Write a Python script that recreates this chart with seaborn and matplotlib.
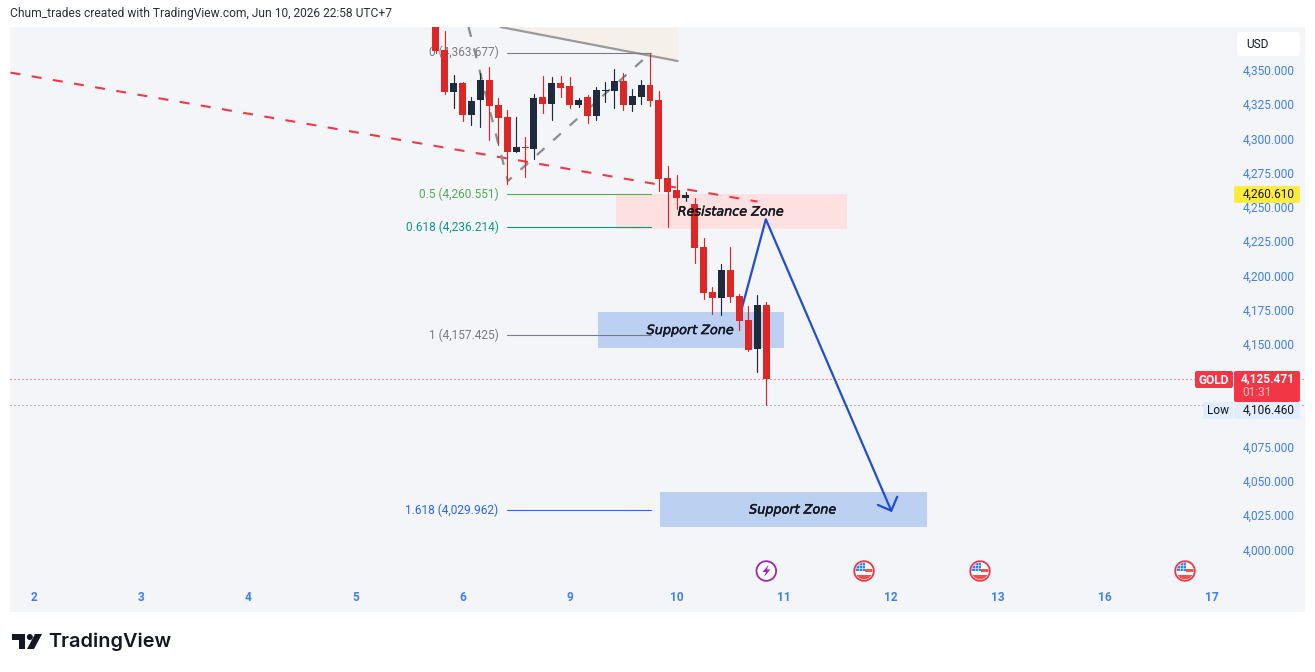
import numpy as np
import pandas as pd
import seaborn as sns
import matplotlib.pyplot as plt
import matplotlib.patheffects as pe
from matplotlib.patches import Circle, FancyBboxPatch, Polygon, Rectangle
from matplotlib.transforms import Affine2D, offset_copy

# 2h candles, bar 0 sits on day "6"
first_bar = -3
opens = [4387.5, 4365.6, 4335.2, 4341.5, 4318.4, 4329.3, 4343.7, 4325.5, 4316.7, 4291.4,
         4294.8, 4293.6, 4331.3, 4326.4, 4341.5, 4339.3, 4325.7, 4331.3, 4317.7, 4335.7,
         4335.9, 4343.0, 4325.7, 4331.5, 4340.1, 4329.1, 4272.2, 4263.5, 4257.6, 4253.2,
         4221.9, 4189.1, 4184.7, 4205.1, 4186.1, 4168.6, 4147.5, 4179.6]
closes = [4364.9, 4335.2, 4341.5, 4318.4, 4328.4, 4343.7, 4325.0, 4316.2, 4291.4, 4294.8,
          4294.1, 4330.6, 4326.4, 4341.5, 4338.1, 4325.7, 4329.1, 4317.2, 4336.4, 4336.4,
          4343.0, 4325.7, 4332.0, 4340.1, 4328.6, 4271.7, 4262.2, 4257.6, 4259.8, 4221.1,
          4188.3, 4184.7, 4205.1, 4185.4, 4167.9, 4146.7, 4179.6, 4125.471]
highs = [4394.8, 4379.5, 4347.4, 4342.5, 4331.1, 4348.8, 4353.2, 4330.4, 4321.8, 4316.7,
         4302.1, 4333.5, 4346.6, 4345.9, 4346.6, 4345.9, 4330.6, 4332.8, 4338.6, 4342.3,
         4351.7, 4348.8, 4337.1, 4343.7, 4363.677, 4335.7, 4281.0, 4274.4, 4262.0, 4257.6,
         4228.4, 4192.7, 4209.5, 4221.9, 4187.6, 4178.8, 4186.9, 4181.8]
lows = [4363.4, 4333.5, 4323.5, 4314.0, 4311.1, 4309.6, 4300.0, 4296.3, 4267.8, 4291.4,
        4273.2, 4286.3, 4319.6, 4314.8, 4331.5, 4323.5, 4324.2, 4312.6, 4314.8, 4327.9,
        4323.5, 4322.1, 4321.3, 4326.4, 4325.0, 4263.0, 4236.7, 4249.6, 4255.4, 4210.2,
        4184.0, 4173.0, 4172.3, 4181.8, 4161.3, 4146.0, 4130.7, 4106.46]

day_bars = [-48, -36, -24, -12, 0, 12, 24, 36, 48, 60, 72, 84]
day_labels = ["2", "3", "4", "5", "6", "9", "10", "11", "12", "13", "16", "17"]
price_ticks = [4350, 4325, 4300, 4275, 4250, 4225, 4200, 4175, 4150, 4075, 4050, 4025, 4000]

fib_levels = [4363.677, 4260.551, 4236.214, 4157.425, 4029.962]
fib_names = ["0", "0.5", "0.618", "1", "1.618"]
fib_colors = ["#787b86", "#4caf50", "#089981", "#787b86", "#2962ff"]
fib_start, fib_end = 4.93, 21.06

last_price = 4125.471
low_price = 4106.46

red_line_x = [-50.64, 33.05]
red_line_y = [4349.1, 4255.0]
grey_dash_x = [0.67, 5.08, 21.06]
grey_dash_y = [4382.4, 4270.0, 4363.4]
wedge_x = [4.26, 24.09]
wedge_y = [4382.4, 4357.6]
path_x = [31.0, 33.98, 48.03]
path_y = [4170.1, 4242.1, 4029.5]
head_x = [46.53, 48.03, 48.7]
head_y = [4033.7, 4029.5, 4039.7]

zone_names = ["Resistance Zone", "Support Zone", "Support Zone"]
zone_left = [17.14, 15.13, 22.07]
zone_right = [43.03, 35.97, 51.99]
zone_low = [4235.0, 4148.2, 4017.6]
zone_high = [4260.6, 4174.5, 4043.2]
zone_colors = ["#fde0e0", "#bcd0f2", "#bcd0f2"]

RED = "#dd2626"
DARK = "#1f2a3c"
TICK = "#3f7ff2"
ALERT = "#f23645"

sns.set_theme(style="white")
plt.rcParams["font.family"] = ["Roboto", "DejaVu Sans"]

fig = plt.figure(figsize=(13.15, 6.72), dpi=100, facecolor="white")
ax = fig.add_axes([10 / 1315, 1 - 612 / 672, 1295.5 / 1315, 585 / 672], facecolor="#f4f5f8")
# pixel coords for the price boxes, icons and logo
pix = Affine2D().scale(1 / 1315, -1 / 672).translate(0, 1) + fig.transFigure

candles = pd.DataFrame({"bar": np.arange(len(opens)) + first_bar, "open": opens,
                        "close": closes, "high": highs, "low": lows})
candles["color"] = np.where(candles["close"] >= candles["open"], DARK, RED)
wicks = candles.melt(id_vars=["bar", "color"], value_vars=["high", "low"], value_name="price")

for i in range(3):
    ax.add_patch(Rectangle((zone_left[i], zone_low[i]), zone_right[i] - zone_left[i],
                           zone_high[i] - zone_low[i], color=zone_colors[i], lw=0, zorder=1))

ax.fill_between([wedge_x[0], wedge_x[1]], wedge_y, [wedge_y[0], wedge_y[0]], color="#f5f1ea", lw=0, zorder=1)
sns.lineplot(x=wedge_x, y=wedge_y, ax=ax, color="#9a9a9a", lw=1.6, zorder=2)
sns.lineplot(x=red_line_x, y=red_line_y, ax=ax, color=ALERT, lw=1.5, zorder=2,
             linestyle=(0, (4.8, 5.5)))
sns.lineplot(x=grey_dash_x, y=grey_dash_y, ax=ax, color="#8c8c8c", lw=1.6, zorder=2, sort=False,
             estimator=None, linestyle=(0, (4.6, 5.3)))
sns.lineplot(x=path_x, y=path_y, ax=ax, color="#1f4fd1", lw=1.6, zorder=3, sort=False, estimator=None)
sns.lineplot(x=head_x, y=head_y, ax=ax, color="#1f4fd1", lw=1.6, zorder=3, sort=False, estimator=None)

for level, name, col in zip(fib_levels, fib_names, fib_colors):
    ax.plot([fib_start, fib_end], [level, level], color=col, lw=0.8, zorder=2)
    ax.annotate(f"{name} ({level:,.3f})", (fib_start, level), xytext=(-5.8, 0),
                textcoords="offset points", ha="right", va="center", fontsize=8.6, color=col, zorder=2)

ax.axhline(last_price, color=ALERT, lw=0.8, linestyle=(0, (0.9, 2.7)), zorder=2)
ax.axhline(low_price, color="#787b86", lw=0.8, linestyle=(0, (0.9, 2.7)), zorder=2)

sns.lineplot(data=wicks, x="bar", y="price", units="bar", estimator=None, hue="color",
             palette={RED: RED, DARK: DARK}, lw=0.85, legend=False, ax=ax, zorder=4)
ax.bar(candles["bar"], candles["close"] - candles["open"], bottom=candles["open"], width=0.78,
       color=candles["color"], lw=0, zorder=5)

for i in range(3):
    t = ax.text((zone_left[i] + zone_right[i]) / 2 - 0.05, (zone_low[i] + zone_high[i]) / 2 - 0.4, zone_names[i],
                family="DejaVu Sans", style="italic", fontsize=9.2, color="#131722",
                ha="center", va="center", zorder=6)
    t.set_path_effects([pe.withStroke(linewidth=0.35, foreground="#131722")])

ax.set_xlim(-50.7, 94.44)
ax.set_ylim(3955.6, 4382.4)
ax.set_xlabel("")
ax.set_ylabel("")
sns.despine(ax=ax, left=True, bottom=True)

ax.yaxis.tick_right()
ax.set_yticks(price_ticks)
ax.set_yticklabels([f"{p:,.3f}" for p in price_ticks], ha="right", color=TICK, fontsize=8.6)
ax.tick_params(axis="y", length=0, pad=-7.7)
for lab in ax.get_yticklabels():
    # TradingView prints them a touch above the true level
    lab.set_transform(offset_copy(lab.get_transform(), fig=fig, x=0, y=1.2, units="points"))
ax.set_xticks(day_bars)
ax.set_xticklabels(day_labels, color=TICK, fontsize=8.6, weight="bold")
ax.tick_params(axis="x", length=0, pad=-15)


def box(x0, y0, x1, y1, color, r=2):
    fig.add_artist(FancyBboxPatch((x0 + r, y0 + r), x1 - x0 - 2 * r, y1 - y0 - 2 * r,
                                  boxstyle=f"round,pad={r},rounding_size={r}", fc=color, ec="none",
                                  transform=pix, zorder=10))


def label(x, y, s, color, ha="left", size=8.6, weight="normal", alpha=1):
    fig.text(x, y, s, color=color, ha=ha, va="center", fontsize=size, weight=weight, alpha=alpha,
             transform=pix, zorder=11)


box(1237, 32, 1300, 56, "white", r=3)
label(1246, 44.5, "USD", "#131722")
box(1234, 186, 1300, 203, "#ffeb3b")
label(1295, 194, "4,260.610", "#131722", ha="right")
box(1203, 402, 1233, 419, "#e3eefc")
box(1234, 402, 1300, 419, "#e3eefc")
label(1218, 410.5, "Low", "#131722", ha="center")
label(1295, 410, f"{low_price:,.3f}", "#131722", ha="right")
box(1195, 371, 1233, 388, ALERT)
label(1214, 380, "GOLD", "white", ha="center", weight="bold")
box(1234, 371, 1300, 402, ALERT)
label(1295, 379, f"{last_price:,.3f}", "white", ha="right", weight="bold")
label(1242, 393, "01:31", "white", alpha=0.7)

# event icons under the chart
fig.add_artist(Circle((766.3, 571), 9.8, fc="white", ec="#9c27b0", lw=1.3, transform=pix, zorder=10))
fig.add_artist(Polygon([(768.5, 565), (762.5, 572), (766, 572), (764, 577), (770.5, 569.5), (767, 569.5)],
                       fc="#9c27b0", ec="none", transform=pix, zorder=11))
for cx in [864, 980, 1185]:
    ring = Circle((cx, 571), 9.8, fc="white", ec=ALERT, lw=1.3, transform=pix, zorder=10)
    fig.add_artist(ring)
    clip = Circle((cx, 571), 8.4, transform=pix)
    parts = [Rectangle((cx + 1, 568.5), 8, 3.5, fc="#ef5350", ec="none", transform=pix, zorder=11),
             Rectangle((cx - 9, 575), 18, 5, fc="#ef5350", ec="none", transform=pix, zorder=11),
             Rectangle((cx - 9, 562), 10, 9, fc="#2f86ee", ec="none", transform=pix, zorder=12)]
    for p in parts:
        fig.add_artist(p)
        p.set_clip_path(clip)
    for dx in [-5, -2]:
        line = plt.Line2D([cx + dx, cx + dx], [562, 571], color="white", lw=0.4, transform=pix, zorder=13)
        fig.add_artist(line)
        line.set_clip_path(clip)
    for dy in [565, 568]:
        line = plt.Line2D([cx - 9, cx + 1], [dy, dy], color="white", lw=0.4, transform=pix, zorder=13)
        fig.add_artist(line)
        line.set_clip_path(clip)

fig.text(10, 14, "Chum_trades created with TradingView.com, Jun 10, 2026 22:58 UTC+7", color="#2a2e39",
         fontsize=8.65, va="center", transform=pix)

# logo
fig.add_artist(Polygon([(12, 634), (25.5, 634), (25.5, 649), (19.5, 649), (19.5, 640), (12, 640)],
                       fc="#131722", ec="none", transform=pix))
fig.add_artist(Circle((29.8, 637), 3, fc="#131722", ec="none", transform=pix))
fig.add_artist(Polygon([(35, 634), (42, 634), (34, 649), (27, 649)], fc="#131722", ec="none", transform=pix))
fig.text(48.5, 641.5, "TradingView", color="#131722", family="Inter", weight="semibold", fontsize=14.3,
         va="center", transform=pix)

fig.savefig("out.png", dpi=100)
